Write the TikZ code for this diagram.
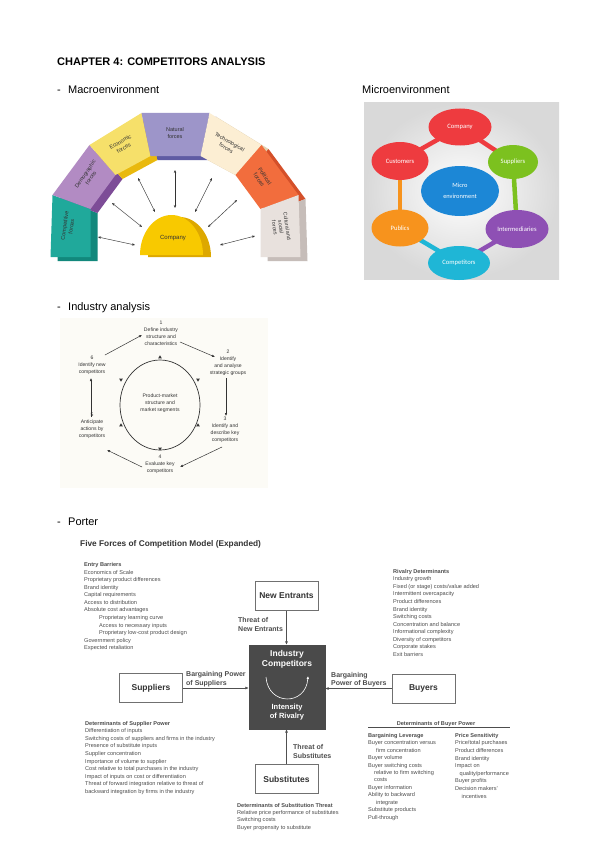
\documentclass[tikz,border=0pt]{standalone}
\usepackage{fontspec}
\setmainfont{Liberation Sans}
\newfontfamily\carl{Carlito}
\usetikzlibrary{arrows.meta,shapes.geometric,calc}

\definecolor{txt}{HTML}{4D4D4D}
\definecolor{dark}{HTML}{333333}
\definecolor{boxline}{HTML}{707070}
\definecolor{icfill}{HTML}{4A4A4A}
\definecolor{arr}{HTML}{505050}
% macro arch colours
\definecolor{tealF}{HTML}{20A99B}\definecolor{tealB}{HTML}{12887C}
\definecolor{demF}{HTML}{B28BC3}\definecolor{demB}{HTML}{7D4C97}
\definecolor{ecoF}{HTML}{F6E06A}\definecolor{ecoB}{HTML}{E9B90E}
\definecolor{natF}{HTML}{9D95C9}\definecolor{natB}{HTML}{5F5BA3}
\definecolor{tecF}{HTML}{FCEED3}\definecolor{tecB}{HTML}{E2D0AE}
\definecolor{polF}{HTML}{F26D3D}\definecolor{polB}{HTML}{D4502A}
\definecolor{culF}{HTML}{E8E1DD}\definecolor{culB}{HTML}{C6BDB9}
\definecolor{compF}{HTML}{F8C900}\definecolor{compB}{HTML}{DDA800}
% micro colours
\definecolor{mRed}{HTML}{EE3B3F}
\definecolor{mGreen}{HTML}{7CC11F}
\definecolor{mPurple}{HTML}{8E50B4}
\definecolor{mCyan}{HTML}{1FB6D6}
\definecolor{mOrange}{HTML}{F7931D}
\definecolor{mBlue}{HTML}{1C87D6}
\definecolor{scan}{HTML}{FCFBF6}

\newcommand\triUp[2]{\fill[dark] (#1,#2-1.7) -- (#1+1.8,#2+1.3) -- (#1-1.8,#2+1.3) -- cycle;}
\newcommand\triDn[2]{\fill[dark] (#1,#2+1.7) -- (#1+1.8,#2-1.3) -- (#1-1.8,#2-1.3) -- cycle;}

\begin{document}
\begin{tikzpicture}[x=1pt,y=-1pt,
  sec/.style={anchor=base west,inner sep=0pt,font=\fontsize{11}{13}\selectfont},
  alab/.style={inner sep=0pt,align=center,text=dark,font=\fontsize{5.5}{6.8}\selectfont},
  marr/.style={draw=dark,line width=0.45pt,{Stealth[length=3pt,width=2.4pt]}-{Stealth[length=3pt,width=2.4pt]}},
  mell/.style={ellipse,inner sep=0pt,text=white,font=\carl\fontsize{6.6}{8}\selectfont},
  itx/.style={inner sep=0pt,align=center,text=dark,font=\fontsize{5.1}{7}\selectfont},
  iarr/.style={draw=dark,line width=0.5pt,-{Latex[length=3pt,width=2.6pt]}},
  lst/.style={anchor=north west,inner sep=0pt,align=left,text=txt,font=\fontsize{5.6}{7.57}\selectfont},
  fbox/.style={draw=boxline,line width=0.6pt,fill=white,minimum width=63pt,minimum height=29pt,inner sep=0pt,text=dark,font=\bfseries\fontsize{8.5}{10}\selectfont},
  flab/.style={anchor=north west,inner sep=0pt,align=left,text=txt,font=\bfseries\fontsize{7}{8.8}\selectfont},
  farr/.style={draw=arr,line width=0.6pt,-{Latex[length=3.5pt,width=3pt]}}
]
\useasboundingbox[fill=white] (0,0) rectangle (599,848);

% ---------- headings ----------
\node[anchor=base west,inner sep=0pt,font=\bfseries\fontsize{11}{13}\selectfont] (hdr) at (57,66) {CHAPTER 4: COMPETITORS ANALYSIS};
\node[sec] (d1) at (57,94) {-};
\node[sec] (macrolab) at (68,94) {Macroenvironment};
\node[sec] (microlab) at (362,94) {Microenvironment};
\node[sec] (d2) at (57,310) {-};
\node[sec] (indlab) at (68,310) {Industry analysis};
\node[sec] (d3) at (57,525) {-};
\node[sec] (portlab) at (68,525) {Porter};

% ---------- Macroenvironment arch ----------
\coordinate (O0) at (50.5,257);  \coordinate (I0) at (90.5,257);
\coordinate (O1) at (52.5,195);  \coordinate (I1) at (90.5,209);
\coordinate (O2) at (89.5,145);  \coordinate (I2) at (115.5,175);
\coordinate (O3) at (141.5,113); \coordinate (I3) at (150.5,156);
\coordinate (O4) at (209.5,113); \coordinate (I4) at (200.5,156);
\coordinate (O5) at (261.5,145); \coordinate (I5) at (235.5,175);
\coordinate (O6) at (298.5,195); \coordinate (I6) at (260.5,209);
\coordinate (O7) at (300.5,257); \coordinate (I7) at (260.5,257);
\foreach \a/\b/\col in {0/1/tealB,1/2/demB,2/3/ecoB,3/4/natB,4/5/tecB,5/6/polB,6/7/culB}
  \fill[\col] ($(O\a)+(7,4)$) -- ($(O\b)+(7,4)$) -- ($(I\b)+(7,4)$) -- ($(I\a)+(7,4)$) -- cycle;
\foreach \a/\b/\col in {0/1/tealF,1/2/demF,2/3/ecoF,3/4/natF,4/5/tecF,5/6/polF,6/7/culF}
  \fill[\col] (O\a) -- (O\b) -- (I\b) -- (I\a) -- cycle;

\node[alab,rotate=82] (fcomp) at (68,226) {Competitive\\forces};
\node[alab,rotate=56] (fdem) at (88,176) {Demographic\\forces};
\node[alab,rotate=30] (feco) at (122,145) {Economic\\forces};
\node[alab] (fnat) at (175,133) {Natural\\forces};
\node[alab,rotate=-30] (ftec) at (228,145) {Technological\\forces};
\node[alab,rotate=-56] (fpol) at (262,178) {Political\\forces};
\node[alab,rotate=-82,font=\fontsize{5.3}{6.3}\selectfont] (fcul) at (281,227) {Cultural and\\social\\forces};

% company dome
\fill[compB] plot[domain=0:180,samples=40] ({179.5+31.5*cos(\x)},{257-40*sin(\x)}) -- cycle;
\fill[compF] plot[domain=0:180,samples=40] ({171.5+31.5*cos(\x)},{255-40*sin(\x)}) -- cycle;
\node[alab,font=\fontsize{6}{7}\selectfont] (company) at (173,238) {Company};

\draw[marr] (98,237) -- (135,245);
\draw[marr] (112,203) -- (142,227);
\draw[marr] (138,178) -- (155,212);
\draw[marr] (175,170) -- (175,208);
\draw[marr] (212,178) -- (195,212);
\draw[marr] (237,200) -- (208,227);
\draw[marr] (255,236) -- (220,245);

% ---------- Microenvironment ----------
\shade[inner color=white,outer color=black!15] (364,103) rectangle (559,279);
\coordinate (cCo) at (460,127);
\coordinate (cSu) at (513,162);
\coordinate (cIn) at (517,229);
\coordinate (cCm) at (459,263);
\coordinate (cPu) at (400,228);
\coordinate (cCu) at (400,161);
\draw[line width=4.5pt,mRed] (cCo) -- (cSu);
\draw[line width=4.5pt,mGreen] (cSu) -- (cIn);
\draw[line width=4.5pt,mPurple] (cIn) -- (cCm);
\draw[line width=4.5pt,mCyan] (cCm) -- (cPu);
\draw[line width=4.5pt,mOrange] (cPu) -- (cCu);
\draw[line width=4.5pt,mRed] (cCu) -- (cCo);
\node[mell,fill=mRed,minimum width=63pt,minimum height=37pt] (mco) at (cCo) {Company};
\node[mell,fill=mGreen,minimum width=50pt,minimum height=34pt] (msu) at (cSu) {Suppliers};
\node[mell,fill=mPurple,minimum width=63pt,minimum height=38pt] (min) at (cIn) {Intermediaries};
\node[mell,fill=mCyan,minimum width=62pt,minimum height=34pt] (mcm) at (cCm) {Competitors};
\node[mell,fill=mOrange,minimum width=57pt,minimum height=37pt] (mpu) at (cPu) {Publics};
\node[mell,fill=mRed,minimum width=57pt,minimum height=38pt] (mcu) at (cCu) {Customers};
\node[mell,fill=mBlue,minimum width=78pt,minimum height=50pt,align=center,font=\carl\fontsize{6.4}{10.5}\selectfont] (mce) at (460,191) {Micro\\environment};

% ---------- Industry analysis ----------
\fill[scan] (60,318) rectangle (268,488);
\draw[line width=0.7pt,dark] (160,405) ellipse [x radius=40, y radius=45];
\node[itx] (ctr) at (160,403) {Product-market\\structure and\\market segments};
\node[itx] (s1) at (161,333.5) {1\\Define industry\\structure and\\characteristics};
\node[itx] (s2) at (228,363) {2\\Identify\\and analyse\\strategic groups};
\node[itx] (s3) at (225,430) {3\\Identify and\\describe key\\competitors};
\node[itx] (s4) at (160,464.5) {4\\Evaluate key\\competitors};
\node[itx] (s5) at (92,426) {5\\Anticipate\\actions by\\competitors};
\node[itx] (s6) at (92,365) {6\\Identify new\\competitors};
\coordinate (a1s) at (180,342); \coordinate (a1e) at (215,357);
\coordinate (a2s) at (226,378); \coordinate (a2e) at (226,416);
\coordinate (a3s) at (222,447); \coordinate (a3e) at (180,467);
\coordinate (a4s) at (142,467); \coordinate (a4e) at (107,450);
\coordinate (a5s) at (91,417);  \coordinate (a5e) at (91,378);
\coordinate (a6s) at (105,355); \coordinate (a6e) at (142,335);
\draw[iarr] (a1s) -- (a1e);
\draw[iarr] (a2s) -- (a2e);
\draw[iarr] (a3s) -- (a3e);
\draw[iarr] (a4s) -- (a4e);
\draw[iarr] (a5s) -- (a5e);
\draw[iarr] (a6s) -- (a6e);
\triUp{160}{357}
\triDn{198}{380}
\triUp{198}{425}
\triDn{160}{449}
\triUp{121}{425}
\triDn{121}{380}

% ---------- Porter ----------
\node[anchor=base west,inner sep=0pt,text=dark,font=\bfseries\fontsize{8.3}{10}\selectfont] (ptitle) at (80,546) {Five Forces of Competition Model (Expanded)};

\node[lst] (entry) at (84,562.3) {\textbf{Entry Barriers}\\Economics of Scale\\Proprietary product differences\\Brand identity\\Capital requirements\\Access to distribution\\Absolute cost advantages\\\hspace*{15pt}Proprietary learning curve\\\hspace*{15pt}Access to necessary inputs\\\hspace*{15pt}Proprietary low-cost product design\\Government policy\\Expected retaliation};

\node[lst] (rival) at (393,569) {\textbf{Rivalry Determinants}\\Industry growth\\Fixed (or stage) costs/value added\\Intermittent overcapacity\\Product differences\\Brand identity\\Switching costs\\Concentration and balance\\Informational complexity\\Diversity of competitors\\Corporate stakes\\Exit barriers};

\node[lst] (supdet) at (85,721) {\textbf{Determinants of Supplier Power}\\Differentiation of inputs\\Switching costs of suppliers and firms in the industry\\Presence of substitute inputs\\Supplier concentration\\Importance of volume to supplier\\Cost relative to total purchases in the industry\\Impact of inputs on cost or differentiation\\Threat of forward integration relative to threat of\\backward integration by firms in the industry};

\node[lst,font=\fontsize{5.6}{7.35}\selectfont] (subdet) at (237,803) {\textbf{Determinants of Substitution Threat}\\Relative price performance of substitutes\\Switching costs\\Buyer propensity to substitute};

\node[anchor=base,inner sep=0pt,text=txt,font=\bfseries\fontsize{5.6}{7}\selectfont] (buytitle) at (436,725) {Determinants of Buyer Power};
\draw[line width=0.5pt,txt] (368,727.5) -- (510,727.5);
\node[lst,font=\fontsize{5.6}{7.45}\selectfont] (buyleft) at (368,733) {\textbf{Bargaining Leverage}\\Buyer concentration versus\\\hspace*{8pt}firm concentration\\Buyer volume\\Buyer switching costs\\\hspace*{6pt}relative to firm switching\\\hspace*{6pt}costs\\Buyer information\\Ability to backward\\\hspace*{8pt}integrate\\Substitute products\\Pull-through};
\node[lst,font=\fontsize{5.6}{7.6}\selectfont] (buyright) at (455,733) {\textbf{Price Sensitivity}\\Price/total purchases\\Product differences\\Brand identity\\Impact on\\\hspace*{4.5pt}quality/performance\\Buyer profits\\Decision makers'\\\hspace*{6.5pt}incentives};

% boxes
\node[fbox] (ne) at (286.5,596) {New Entrants};
\node[fbox] (sup) at (151,688) {Suppliers};
\node[fbox] (buy) at (423.5,688.5) {Buyers};
\node[fbox] (subs) at (286.5,779) {Substitutes};
\node[draw=icfill,fill=icfill,minimum width=76pt,minimum height=84pt,inner sep=0pt] (ic) at (287,687) {};
\node[inner sep=0pt,align=center,text=white,font=\bfseries\fontsize{8.5}{10}\selectfont] (ictop) at (287,659) {Industry\\Competitors};
\node[inner sep=0pt,align=center,text=white,font=\bfseries\fontsize{7.5}{9}\selectfont] (icbot) at (287,712.5) {Intensity\\of Rivalry};
\coordinate (rvs) at (266,677);
\coordinate (rve) at (308,676);
\draw[white,line width=0.6pt,-{Latex[length=3pt,width=2.6pt]}] (rvs) .. controls (268,706) and (306,706) .. (rve);

\draw[farr] (ne.south) -- (ne.south |- ic.north);
\draw[farr] (subs.north) -- (subs.north |- ic.south);
\draw[farr] (sup.east) -- (sup.east -| ic.west);
\draw[farr] (buy.west) -- (buy.west -| ic.east);

\node[flab] (lne) at (238,617.5) {Threat of\\New Entrants};
\node[flab] (lsup) at (186,671.5) {Bargaining Power\\of Suppliers};
\node[flab,font=\bfseries\fontsize{7}{8.2}\selectfont] (lbuy) at (331,672.5) {Bargaining\\Power of Buyers};
\node[flab] (lsub) at (293,744.5) {Threat of\\Substitutes};
\end{tikzpicture}
\end{document}
